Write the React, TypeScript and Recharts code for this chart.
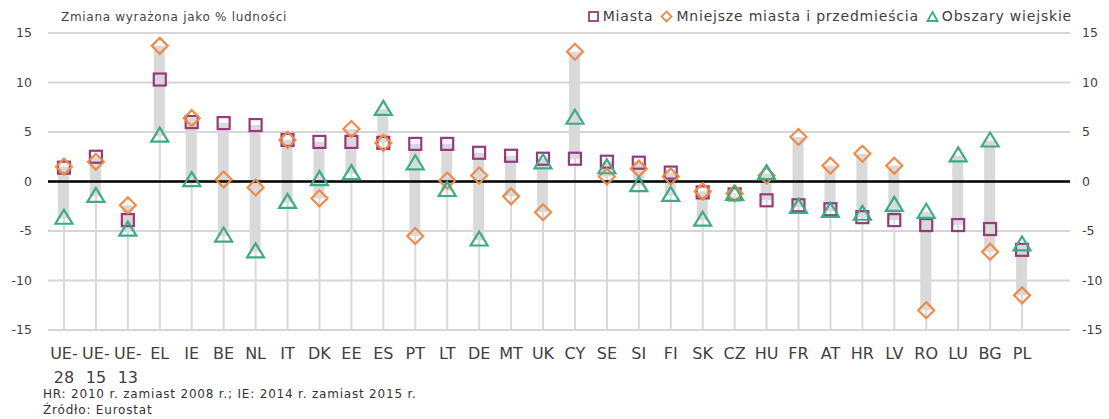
import React from "react";
import {
  ComposedChart,
  Bar,
  Scatter,
  XAxis,
  YAxis,
  CartesianGrid,
  ReferenceLine,
} from "recharts";

const categories = [
  "UE-28", "UE-15", "UE-13", "EL", "IE", "BE", "NL", "IT", "DK", "EE", "ES",
  "PT", "LT", "DE", "MT", "UK", "CY", "SE", "SI", "FI", "SK", "CZ", "HU",
  "FR", "AT", "HR", "LV", "RO", "LU", "BG", "PL",
];
const miasta = [
  1.4, 2.5, -3.9, 10.3, 6.0, 5.9, 5.7, 4.2, 4.0, 4.0, 3.9, 3.8, 3.8, 2.9, 2.6,
  2.3, 2.3, 2.0, 1.9, 0.9, -1.1, -1.3, -1.9, -2.4, -2.8, -3.6, -3.9, -4.4, -4.4,
  -4.8, -6.9,
];
const mniejsze = [
  1.5, 2.0, -2.4, 13.7, 6.4, 0.2, -0.6, 4.2, -1.7, 5.3, 3.9, -5.5, 0.1, 0.6,
  -1.5, -3.1, 13.1, 0.5, 1.3, 0.5, -1.0, -1.2, 0.6, 4.5, 1.6, 2.8, 1.6, -13.0,
  null, -7.1, -11.5,
];
const wiejskie = [
  -3.7, -1.5, -4.9, 4.6, 0.1, -5.5, -7.1, -2.1, 0.2, 0.8, 7.3, 1.8, -0.9, -5.9,
  null, 1.9, 6.4, 1.4, -0.4, -1.4, -3.9, -1.3, 0.8, -2.6, -3.0, -3.3, -2.4,
  -3.1, 2.6, 4.1, -6.4,
];
const yTicks = [-15, -10, -5, 0, 5, 10, 15];

const COLORS = {
  miasta: "#963a7d",
  mniejsze: "#ec8b4a",
  wiejskie: "#3dab88",
  bar: "#d9d9d9",
  grid: "#d6d6d6",
  text: "#404040",
};

const FONT = "DejaVu Sans";

const data = categories.map((name, i) => {
  const vals = [miasta[i], mniejsze[i], wiejskie[i]].filter(
    (v) => v != null
  ) as number[];
  const lo = Math.min(...vals);
  const hi = Math.max(...vals);
  return {
    name,
    miasta: miasta[i],
    mniejsze: mniejsze[i],
    wiejskie: wiejskie[i],
    range: [lo, hi],
    drop: [yTicks[0], hi],
  };
});

function SquareMark(props: any) {
  const { cx, cy, payload } = props;
  if (payload?.miasta == null || !isFinite(cy)) return null;
  const s = 12;
  return (
    <rect
      x={cx - s / 2}
      y={cy - s / 2}
      width={s}
      height={s}
      fill="none"
      stroke={COLORS.miasta}
      strokeWidth={2.2}
    />
  );
}

function DiamondMark(props: any) {
  const { cx, cy, payload } = props;
  if (payload?.mniejsze == null || !isFinite(cy)) return null;
  const r = 8;
  return (
    <polygon
      points={`${cx},${cy - r} ${cx + r},${cy} ${cx},${cy + r} ${cx - r},${cy}`}
      fill="none"
      stroke={COLORS.mniejsze}
      strokeWidth={2.2}
    />
  );
}

function TriangleMark(props: any) {
  const { cx, cy, payload } = props;
  if (payload?.wiejskie == null || !isFinite(cy)) return null;
  const w = 8.5;
  const h = 14;
  return (
    <polygon
      points={`${cx},${cy - h * 0.6} ${cx + w},${cy + h * 0.4} ${cx - w},${cy + h * 0.4}`}
      fill="none"
      stroke={COLORS.wiejskie}
      strokeWidth={2.2}
    />
  );
}

function XTick(props: any) {
  const { x, y, payload } = props;
  const v: string = payload.value;
  const parts = v.startsWith("UE-") ? ["UE-", v.slice(3)] : [v];
  return (
    <text
      x={x}
      y={y}
      textAnchor="middle"
      fill={COLORS.text}
      fontSize={16}
      fontFamily={FONT}
    >
      {parts.map((p, i) => (
        <tspan key={i} x={x} dy={i === 0 ? -9 : 24}>
          {p}
        </tspan>
      ))}
    </text>
  );
}

function LegendItem({ kind, label }: { kind: string; label: string }) {
  return (
    <span style={{ display: "flex", alignItems: "center", marginLeft: 7 }}>
      <svg width={13} height={13} style={{ marginRight: 3 }}>
        {kind === "sq" && (
          <rect x={2} y={2} width={9} height={9} fill="none" stroke={COLORS.miasta} strokeWidth={1.8} />
        )}
        {kind === "di" && (
          <polygon points="6.5,1.5 11.5,6.5 6.5,11.5 1.5,6.5" fill="none" stroke={COLORS.mniejsze} strokeWidth={1.8} />
        )}
        {kind === "tr" && (
          <polygon points="6.5,2 11.5,11 1.5,11" fill="none" stroke={COLORS.wiejskie} strokeWidth={1.8} />
        )}
      </svg>
      <span>{label}</span>
    </span>
  );
}

export default function App() {
  return (
    <div
      style={{
        position: "absolute",
        left: 0,
        top: 0,
        width: 1109,
        height: 419,
        background: "#fff",
        fontFamily: FONT,
      }}
    >
      <ComposedChart
        width={1109}
        height={419}
        data={data}
        margin={{ top: 33, right: 0, left: 8, bottom: 49 }}
        barGap={0}
      >
        <CartesianGrid
          vertical={false}
          stroke={COLORS.grid}
          strokeWidth={2}
          yAxisId="left"
        />
        <XAxis
          dataKey="name"
          xAxisId="main"
          padding={{ left: 0, right: 32 }}
          interval={0}
          axisLine={false}
          tickLine={false}
          tick={<XTick />}
          height={40}
        />
        <XAxis
          dataKey="name"
          xAxisId="drop"
          padding={{ left: 0, right: 32 }}
          hide
        />
        <YAxis
          yAxisId="left"
          domain={[-15, 15]}
          ticks={yTicks}
          interval={0}
          axisLine={false}
          tickLine={false}
          width={40}
          tickMargin={10}
          tick={{ fill: COLORS.text, fontSize: 12.5, fontFamily: FONT }}
        />
        <YAxis
          yAxisId="right"
          orientation="right"
          domain={[-15, 15]}
          ticks={yTicks}
          interval={0}
          axisLine={false}
          tickLine={false}
          width={39}
          tickMargin={6}
          tick={{ fill: COLORS.text, fontSize: 12.5, fontFamily: FONT }}
        />
        <Bar
          dataKey="drop"
          xAxisId="drop"
          yAxisId="right"
          barSize={2}
          fill={COLORS.bar}
          isAnimationActive={false}
        />
        <Bar
          dataKey="range"
          xAxisId="main"
          yAxisId="left"
          barSize={11}
          fill={COLORS.bar}
          isAnimationActive={false}
        />
        <ReferenceLine
          y={0}
          yAxisId="left"
          xAxisId="main"
          stroke="#000"
          strokeWidth={2.5}
        />
        <Scatter
          dataKey="miasta"
          xAxisId="main"
          yAxisId="left"
          shape={<SquareMark />}
          isAnimationActive={false}
        />
        <Scatter
          dataKey="mniejsze"
          xAxisId="main"
          yAxisId="left"
          shape={<DiamondMark />}
          isAnimationActive={false}
        />
        <Scatter
          dataKey="wiejskie"
          xAxisId="main"
          yAxisId="left"
          shape={<TriangleMark />}
          isAnimationActive={false}
        />
      </ComposedChart>

      <div
        style={{
          position: "absolute",
          left: 61,
          top: 10,
          fontSize: 12,
          letterSpacing: 0.7,
          color: "#444",
        }}
      >
        Zmiana wyrażona jako % ludności
      </div>

      <div
        style={{
          position: "absolute",
          right: 37,
          top: 8,
          display: "flex",
          fontSize: 14,
          letterSpacing: 0.8,
          color: COLORS.text,
        }}
      >
        <LegendItem kind="sq" label="Miasta" />
        <LegendItem kind="di" label="Mniejsze miasta i przedmieścia" />
        <LegendItem kind="tr" label="Obszary wiejskie" />
      </div>

      <div
        style={{
          position: "absolute",
          left: 43,
          top: 386,
          fontSize: 12,
          letterSpacing: 0.8,
          color: "#333",
          lineHeight: "16px",
        }}
      >
        <div>HR: 2010 r. zamiast 2008 r.; IE: 2014 r. zamiast 2015 r.</div>
        <div>Źródło: Eurostat</div>
      </div>
    </div>
  );
}
